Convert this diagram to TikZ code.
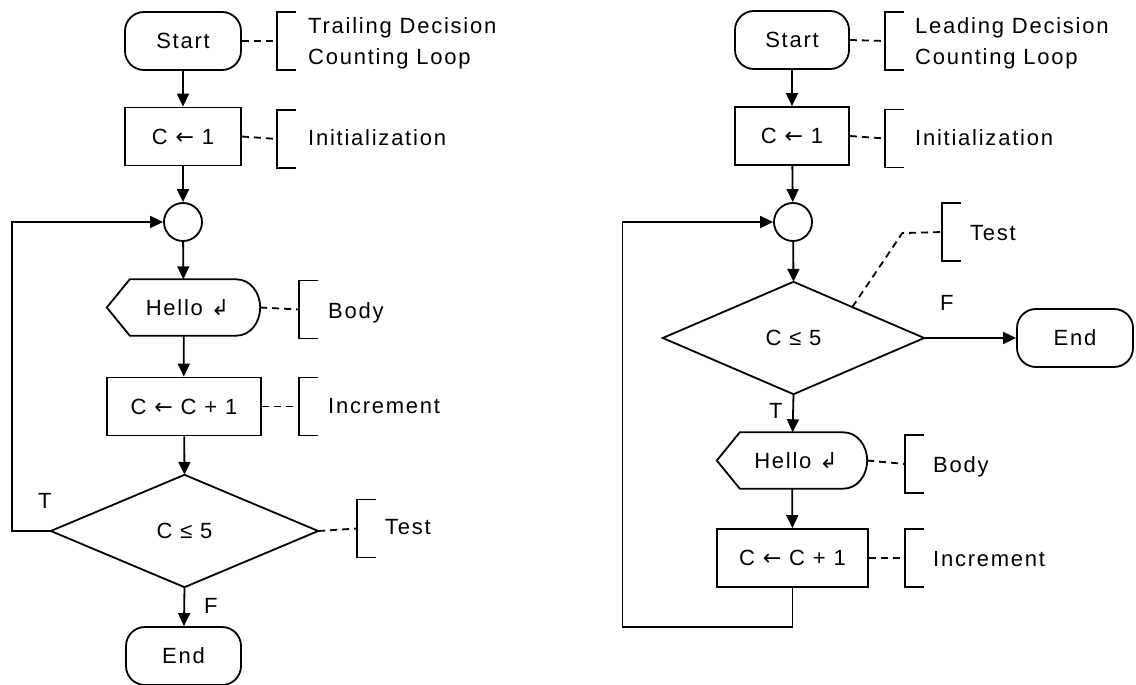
\documentclass[tikz,border=0pt]{standalone}
\usepackage{fontspec}
\setmainfont{Liberation Sans}[LetterSpace=8]
\newfontfamily\symf{DejaVu Sans}
\usetikzlibrary{arrows.meta,calc}
\newcommand{\lar}{ {\symf ←} }
\begin{document}
\begin{tikzpicture}[x=1pt,y=-1pt,
  every node/.style={font=\fontsize{22}{31}\selectfont, inner sep=0pt},
  ln/.style={line width=1.8pt},
  arr/.style={ln, -{Triangle[length=13pt,width=12pt]}},
  dsh/.style={ln, dash pattern=on 7pt off 5pt},
  term/.style={draw, ln, rounded corners=19pt, minimum width=#1, minimum height=58pt},
  proc/.style={draw, ln, minimum width=#1, minimum height=58pt},
  conn/.style={draw, ln, circle, minimum size=38pt},
  shp/.style={minimum width=#1, minimum height=56pt},
  dia/.style={minimum width=#1, minimum height=112pt},
  lbl/.style={anchor=base west},
  brk/.pic={\draw[ln] (19,-29) -- (0,-29) -- (0,29) -- (19,29);}
]
\useasboundingbox (0,0) rectangle (1136,685);

% ---------------- Left: trailing decision ----------------
\node[term=116pt] (s1) at (183,41) {Start};
\node[proc=116pt] (i1) at (183,136.5) {C\lar 1};
\node[conn] (c1) at (183,222) {};
\node[shp=153pt] (h1) at (183.5,307.5) {\hspace*{8pt}Hello {\symf ↲}};
\draw[ln] (h1.west) -- ([xshift=23pt]h1.north west) -- ([xshift=-24pt]h1.north east)
  to[out=0,in=90] (h1.east) to[out=-90,in=0] ([xshift=-24pt]h1.south east)
  -- ([xshift=23pt]h1.south west) -- cycle;
\node[proc=154pt] (n1) at (184,406.5) {C\lar C + 1};
\node[dia=267pt] (d1) at (184.5,531) {C ≤ 5};
\draw[ln] (d1.north) -- (d1.east) -- (d1.south) -- (d1.west) -- cycle;
\node[term=115pt] (e1) at (183.5,656) {End};

\draw[arr] (s1) -- (i1);
\draw[arr] (i1) -- (c1);
\draw[arr] (c1) -- (h1);
\draw[arr] (h1) -- (n1);
\draw[arr] (n1) -- (d1.north);
\draw[arr] (d1.south) -- (e1);
\draw[arr] (d1.west) -- ++(-39,0) |- (c1.west);
\node[lbl] (t1) at (38,508) {T};
\node[lbl] (f1) at (204,613) {F};

% annotations left
\coordinate (b1) at (277,41);
\coordinate (b2) at (277,139);
\coordinate (b3) at (299,309.5);
\coordinate (b4) at (299,406.5);
\coordinate (b5) at (357,528.5);
\draw[dsh] (s1.east) -- (b1);
\draw[dsh] (i1.east) -- (b2);
\draw[dsh] (h1.east) -- (b3);
\draw[dsh] (n1.east) -- (b4);
\draw[dsh] (d1.east) -- (b5);
\pic at (b1) {brk};
\pic at (b2) {brk};
\pic at (b3) {brk};
\pic at (b4) {brk};
\pic at (b5) {brk};
\node[lbl] (a1) at (308,34) {Trailing Decision};
\node[lbl] (a2) at (308,65) {Counting Loop};
\node[lbl] (a3) at (308,146) {Initialization};
\node[lbl] (a4) at (328,318) {Body};
\node[lbl] (a5) at (328,413) {Increment};
\node[lbl] (a6) at (385,534) {Test};

% ---------------- Right: leading decision ----------------
\node[term=114pt] (s2) at (792,40) {Start};
\node[proc=114pt] (i2) at (792,136) {C\lar 1};
\node[conn] (c2) at (793,222) {};
\node[dia=261pt] (d2) at (793.5,338) {C ≤ 5};
\draw[ln] (d2.north) -- (d2.east) -- (d2.south) -- (d2.west) -- cycle;
\node[term=116pt] (e2) at (1075,338) {End};
\node[shp=150pt] (h2) at (792,460.5) {\hspace*{8pt}Hello {\symf ↲}};
\draw[ln] (h2.west) -- ([xshift=23pt]h2.north west) -- ([xshift=-24pt]h2.north east)
  to[out=0,in=90] (h2.east) to[out=-90,in=0] ([xshift=-24pt]h2.south east)
  -- ([xshift=23pt]h2.south west) -- cycle;
\node[proc=151pt] (n2) at (792.5,558) {C\lar C + 1};

\draw[arr] (s2) -- (i2);
\draw[arr] (i2) -- (c2);
\draw[arr] (c2) -- (d2.north);
\draw[arr] (d2.east) -- (e2);
\draw[arr] (d2.south) -- (h2);
\draw[arr] (h2) -- (n2);
\draw[arr] (n2.south) |- ++(-170,39) |- (c2.west);
\node[lbl] (t2) at (769,418) {T};
\node[lbl] (f2) at (940,310) {F};

% annotations right
\coordinate (r1) at (885,41);
\coordinate (r2) at (885,138.5);
\coordinate (r3) at (942,232);
\coordinate (r4) at (905,464);
\coordinate (r5) at (905,558);
\coordinate (dt) at ($(d2.north)!0.45!(d2.east)$);
\draw[dsh] (s2.east) -- (r1);
\draw[dsh] (i2.east) -- (r2);
\draw[dsh] (dt) -- ++(50,-74) -- (r3);
\draw[dsh] (h2.east) -- (r4);
\draw[dsh] (n2.east) -- (r5);
\pic at (r1) {brk};
\pic at (r2) {brk};
\pic at (r3) {brk};
\pic at (r4) {brk};
\pic at (r5) {brk};
\node[lbl] (q1) at (915,34) {Leading Decision};
\node[lbl] (q2) at (915,65) {Counting Loop};
\node[lbl] (q3) at (915,146) {Initialization};
\node[lbl] (q4) at (970,240) {Test};
\node[lbl] (q5) at (933,472) {Body};
\node[lbl] (q6) at (933,566) {Increment};
\end{tikzpicture}
\end{document}
